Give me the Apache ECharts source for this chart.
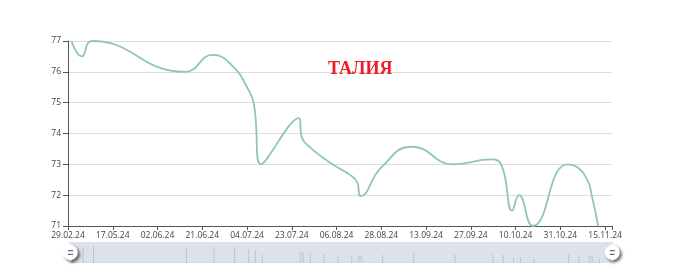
<!DOCTYPE html>
<html>
<head>
<meta charset="utf-8">
<script src="https://cdn.jsdelivr.net/npm/echarts@6/dist/echarts.min.js"></script>
<style>
html,body{margin:0;padding:0;background:#fff;}
#chart{width:680px;height:267px;}
</style>
</head>
<body>
<div id="chart"></div>
<script>
// Tick labels shown on the x axis (every LABEL_STEP-th category)
var tickLabels = ['29.02.24','17.05.24','02.06.24','21.06.24','04.07.24','23.07.24','06.08.24','28.08.24','13.09.24','27.09.24','10.10.24','31.10.24','15.11.24'];
var CATEGORY_COUNT = 159;
var LABEL_STEP = 13;
// Measurement positions (category index) and waist values
var pointIndex = [1, 4, 7, 34, 42, 48, 52, 54, 56, 67, 68, 70, 74, 78, 82, 84, 85, 91, 100, 112, 123, 126, 129, 131, 135, 145, 148, 151, 152, 154];
var pointValue = [77.0, 76.5, 77.0, 76.0, 76.55, 76.17, 75.5, 74.95, 73.0, 74.5, 73.85, 73.58, 73.22, 72.92, 72.65, 72.42, 71.97, 72.9, 73.57, 73.0, 73.16, 72.95, 71.5, 72.0, 71.0, 73.0, 72.9, 72.45, 72.05, 71.0];
var yTicks = [71, 72, 73, 74, 75, 76, 77];

var categories = [];
var seriesData = [];
for (var i = 0; i < CATEGORY_COUNT; i++) {
  categories.push(i % LABEL_STEP === 0 ? tickLabels[i / LABEL_STEP] : '');
  seriesData.push(null);
}
for (var k = 0; k < pointIndex.length; k++) {
  seriesData[pointIndex[k]] = pointValue[k];
}

var chart = echarts.init(document.getElementById('chart'), null, {renderer: 'canvas'});
var axisFont = {fontFamily: 'Open Sans', fontSize: 8.5, color: '#444'};
chart.setOption({
  animation: false,
  title: {
    text: 'ТАЛИЯ',
    left: 328,
    top: 60,
    padding: 0,
    textStyle: {color: '#ee1c25', fontFamily: 'Liberation Serif', fontWeight: 'bold', fontSize: 18}
  },
  grid: {left: 68, right: 68, top: 41, bottom: 41},
  xAxis: {
    type: 'category',
    data: categories,
    boundaryGap: false,
    axisLine: {show: true, lineStyle: {color: '#555', width: 1}},
    axisTick: {show: true, length: 4, lineStyle: {color: '#555'},
      interval: function (idx) { return idx % LABEL_STEP === 0 || idx === CATEGORY_COUNT - 1; }},
    axisLabel: {interval: function (idx) { return idx % LABEL_STEP === 0; }, margin: 5,
      fontFamily: axisFont.fontFamily, fontSize: axisFont.fontSize, color: axisFont.color},
    splitLine: {show: false}
  },
  yAxis: {
    type: 'value',
    min: yTicks[0],
    max: yTicks[yTicks.length - 1],
    interval: 1,
    axisLine: {show: true, lineStyle: {color: '#555', width: 1}},
    axisTick: {show: true, length: 5, lineStyle: {color: '#555'}},
    axisLabel: {margin: 7, fontFamily: axisFont.fontFamily, fontSize: axisFont.fontSize, color: axisFont.color},
    splitLine: {show: true, lineStyle: {color: '#dcdcdc', width: 1}}
  },
  dataZoom: [{
    type: 'slider',
    xAxisIndex: 0,
    start: 0,
    end: 100,
    left: 68,
    right: 68,
    top: 242,
    height: 21,
    brushSelect: false,
    moveHandleSize: 0,
    showDetail: false,
    borderColor: 'transparent',
    backgroundColor: 'transparent',
    fillerColor: 'rgba(167,183,204,0.4)',
    handleIcon: 'M10.7,11.9v-1.3H9.3v1.3c-4.9,0.3-8.8,4.4-8.8,9.4c0,5,3.9,9.1,8.8,9.4v1.3h1.3v-1.3c4.9-0.3,8.8-4.4,8.8-9.4C19.5,16.3,15.6,12.2,10.7,11.9z M13.3,24.4H6.7V23h6.6V24.4z M13.3,19.6H6.7v-1.4h6.6V19.6z',
    handleSize: '80%',
    handleStyle: {color: '#fff', borderColor: 'transparent', shadowBlur: 3, shadowColor: 'rgba(0,0,0,0.6)', shadowOffsetX: 2, shadowOffsetY: 2},
    dataBackground: {lineStyle: {color: '#2f4554', width: 0.5, opacity: 0.3}, areaStyle: {color: 'rgba(47,69,84,0.3)', opacity: 0.3}},
    selectedDataBackground: {lineStyle: {color: '#2f4554', width: 0.5, opacity: 0.3}, areaStyle: {color: 'rgba(47,69,84,0.3)', opacity: 0.3}}
  }],
  series: [{
    name: 'ТАЛИЯ',
    type: 'line',
    data: seriesData,
    connectNulls: true,
    smooth: true,
    showSymbol: false,
    lineStyle: {color: '#91c7ae', width: 1.8},
    itemStyle: {color: '#91c7ae'}
  }]
});
</script>
</body>
</html>
